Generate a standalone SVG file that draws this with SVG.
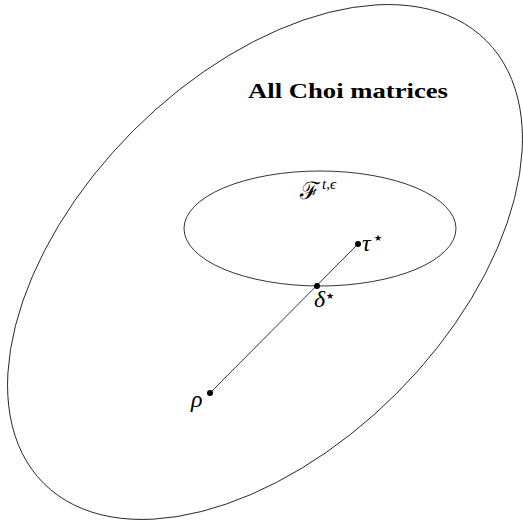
<svg xmlns="http://www.w3.org/2000/svg" width="523" height="525" viewBox="0 0 523 525">
<style>
.shape{fill:none;stroke:#000;stroke-width:0.8}
.dot{fill:#000}
.m{font-family:"Liberation Serif","DejaVu Serif",serif;font-style:italic;fill:#000}
.s{font-family:"DejaVu Sans",sans-serif;fill:#000}
</style>
<rect width="523" height="525" fill="#fff"/>
<g id="all-choi">
<ellipse class="shape" cx="265" cy="262" rx="313" ry="186" transform="rotate(-45 265 262)"/>
<text x="248" y="98" font-family="Liberation Serif,serif" font-weight="bold" font-size="22" textLength="200" lengthAdjust="spacingAndGlyphs">All Choi matrices</text>
</g>
<g id="F-set">
<ellipse class="shape" cx="320" cy="228.5" rx="136" ry="57.5"/>
<text x="300" y="199" font-family="DejaVu Serif,serif" font-size="24" fill="#000">ℱ</text>
<text class="m" x="322" y="189" font-size="15">t,ϵ</text>
</g>
<g id="connectors">
<line class="shape" x1="210" y1="393" x2="358" y2="244"/>
</g>
<g id="tau">
<circle class="dot" cx="358" cy="244" r="3"/>
<text class="m" x="362" y="251" font-size="24">τ</text>
<text class="s" x="374" y="241" font-size="9">★</text>
</g>
<g id="delta">
<circle class="dot" cx="317" cy="286" r="3"/>
<text class="m" x="314" y="307" font-size="24">δ</text>
<text class="s" x="326" y="299" font-size="9">★</text>
</g>
<g id="rho">
<circle class="dot" cx="210" cy="393" r="3"/>
<text class="m" x="191" y="407" font-size="24">ρ</text>
</g>
</svg>
